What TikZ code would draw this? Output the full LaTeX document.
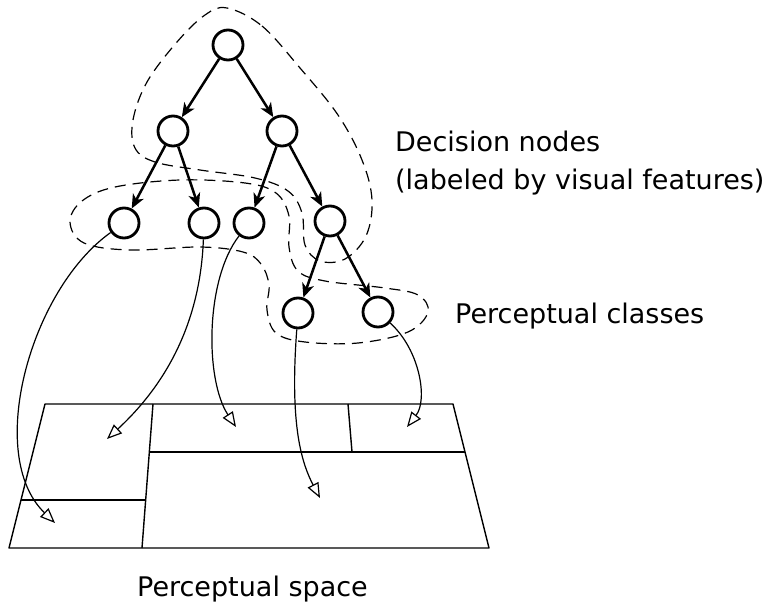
\documentclass[tikz,border=0pt]{standalone}
\usepackage{fontspec}
\setmainfont{DejaVu Sans}
\usetikzlibrary{arrows.meta}

\begin{document}
\begin{tikzpicture}[
    x=1pt, y=-1pt, line join=round,
    font=\fontsize{27}{37}\selectfont,
    tnode/.style={circle, draw, line width=2.8pt, minimum size=30pt, inner sep=0pt},
    branch/.style={-{Stealth[length=14pt,width=12pt,inset=4pt]}, line width=2.5pt},
    mapto/.style={-{Triangle[open,length=15pt,width=12pt]}, line width=1.2pt},
    region/.style={dash pattern=on 11pt off 7pt, line width=1.2pt},
    cell/.style={line width=1.4pt}
  ]
  \useasboundingbox (0,0) rectangle (767,604);

  % ------------------ Decision tree ------------------
  \node[tnode] (root) at (228,45) {};
  \node[tnode] (dl) at (173,131) {};
  \node[tnode] (dr) at (282,131) {};
  \node[tnode] (dm) at (330,221) {};

  % leaves = perceptual classes
  \node[tnode] (ca) at (124,223) {};
  \node[tnode] (cb) at (204,223) {};
  \node[tnode] (cc) at (249,223) {};
  \node[tnode] (cd) at (298,313) {};
  \node[tnode] (ce) at (378,312) {};

  \draw[branch] (root) -- (dl);
  \draw[branch] (root) -- (dr);
  \draw[branch] (dl) -- (ca);
  \draw[branch] (dl) -- (cb);
  \draw[branch] (dr) -- (cc);
  \draw[branch] (dr) -- (dm);
  \draw[branch] (dm) -- (cd);
  \draw[branch] (dm) -- (ce);

  % ------------------ Dashed groupings ------------------
  \draw[region] plot[smooth cycle, tension=0.6] coordinates {
    (227,8) (262,26) (300,68) (338,115) (362,160) (372,200)
    (366,236) (345,259) (320,261) (305,245) (302,213) (288,191)
    (255,178) (200,170) (155,162) (135,148) (133,120) (147,82)
    (177,42) (205,15)};

  \draw[region] plot[smooth cycle, tension=0.6] coordinates {
    (70,222) (82,201) (115,187) (180,180) (245,183) (276,193)
    (289,216) (289,247) (298,271) (325,281) (385,288) (418,295)
    (428,312) (408,332) (358,343) (305,342) (276,333) (267,310)
    (269,285) (261,264) (243,252) (200,247) (130,250) (84,243)};

  % ------------------ Perceptual space ------------------
  \draw[cell] (45,404) -- (453,404) -- (489,548) -- (9,548) -- cycle;
  \draw[cell] (153,404) -- (142,548);
  \draw[cell] (21,500) -- (145.7,500);
  \draw[cell] (149.3,452) -- (465,452);
  \draw[cell] (348,404) -- (352,452);

  \coordinate (pa) at (55,523);
  \coordinate (pb) at (107,439);
  \coordinate (pc) at (236,427);
  \coordinate (pd) at (320,498);
  \coordinate (pe) at (407,427);

  % ------------------ Class to region mapping ------------------
  \draw[mapto] (ca) .. controls (30,290) and (-15,455) .. (pa);
  \draw[mapto] (cb) .. controls (200,330) and (160,390) .. (pb);
  \draw[mapto] (cc) .. controls (205,280) and (205,380) .. (pc);
  \draw[mapto] (cd) .. controls (290,420) and (300,460) .. (pd);
  \draw[mapto] (ce) .. controls (420,350) and (428,400) .. (pe);

  % ------------------ Labels ------------------
  \node[anchor=base west, align=left, inner sep=0pt] (declbl) at (395,189)
    {Decision nodes\\(labeled by visual features)};
  \node[anchor=base west, inner sep=0pt] (clslbl) at (455,323) {Perceptual classes};
  \node[anchor=base west, inner sep=0pt] (spclbl) at (137,596) {Perceptual space};

\end{tikzpicture}
\end{document}
